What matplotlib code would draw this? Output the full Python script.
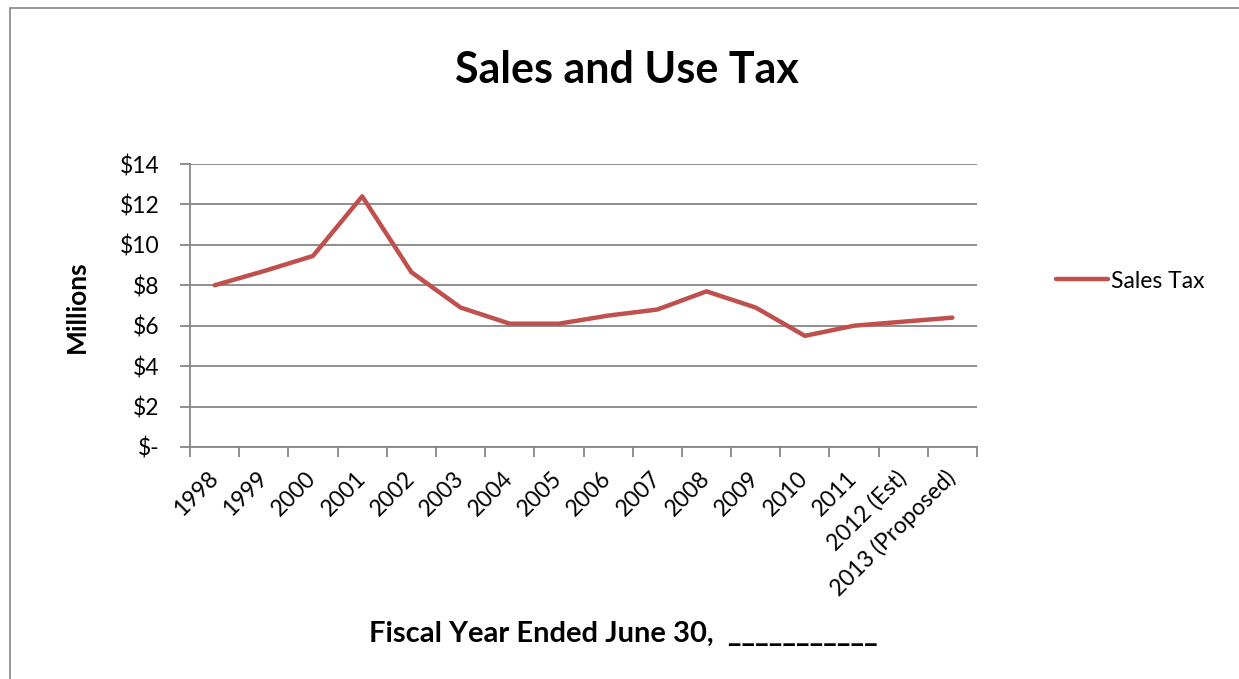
import matplotlib
matplotlib.use("Agg")
import matplotlib.pyplot as plt
from matplotlib.patches import Rectangle
import numpy as np

categories = ["1998", "1999", "2000", "2001", "2002", "2003", "2004", "2005",
              "2006", "2007", "2008", "2009", "2010", "2011", "2012 (Est)",
              "2013 (Proposed)"]
sales_tax = [8.0, 8.7, 9.45, 12.4, 8.65, 6.9, 6.1, 6.1,
             6.5, 6.8, 7.7, 6.9, 5.5, 6.0, 6.2, 6.4]
y_ticks = [0, 2, 4, 6, 8, 10, 12, 14]
y_labels = ["$-", "$2", "$4", "$6", "$8", "$10", "$12", "$14"]

plt.rcParams['font.family'] = ['Lato', 'DejaVu Sans']

W, H = 1239, 679
fig = plt.figure(figsize=(W / 100, H / 100), dpi=100)

# outer chart border
fig.patches.append(Rectangle((10 / W, -0.1), 1.2, 1.1 - 8 / H, transform=fig.transFigure,
                             fill=False, edgecolor="#868686", linewidth=1.2))

ax = fig.add_axes([190 / W, 1 - 447 / H, (977 - 190) / W, (447 - 164) / H])
x = np.arange(len(categories))
line, = ax.plot(x, sales_tax, color="#C0504D", linewidth=3.2,
                solid_capstyle="round", solid_joinstyle="round", label="Sales Tax")

ax.set_xlim(-0.5, len(categories) - 0.5)
ax.set_ylim(0, 14)
ax.set_yticks(y_ticks)
ax.set_yticklabels(y_labels, fontsize=16.5)
ax.yaxis.grid(True, color="#868686", linewidth=1.3)
ax.set_axisbelow(True)

ax.set_xticks(np.arange(-0.5, len(categories)), minor=False)
ax.set_xticklabels([])
ax.set_xticks(x, minor=True)
ax.set_xticklabels(categories, minor=True, rotation=45, ha="right", va="center",
                   rotation_mode="anchor", fontsize=16.5)
ax.tick_params(axis="x", which="minor", length=0, pad=20)
ax.tick_params(axis="x", which="major", length=7, color="#868686", width=1.3, direction="out")
ax.tick_params(axis="y", length=7, color="#868686", width=1.3, direction="out", pad=15)

for s in ["top", "right"]:
    ax.spines[s].set_visible(False)
for s in ["left", "bottom"]:
    ax.spines[s].set_color("#868686")
    ax.spines[s].set_linewidth(1.3)

fig.text(627 / W, 1 - 70 / H, "Sales and Use Tax", ha="center", va="center",
         fontsize=31, fontweight="bold")
fig.text(77 / W, 1 - 307 / H, "Millions", ha="center", va="center", rotation=90,
         fontsize=19, fontweight="bold")
fig.text(623 / W, 1 - 634 / H, "Fiscal Year Ended June 30,  ___________", ha="center",
         va="center", fontsize=21, fontweight="bold")

fig.legend(handles=[line], loc="center left", bbox_to_anchor=(1035 / W, 1 - 281 / H),
           frameon=False, fontsize=16.5, handlelength=2.3, handletextpad=0.1)

fig.savefig("out.png", dpi=100)
